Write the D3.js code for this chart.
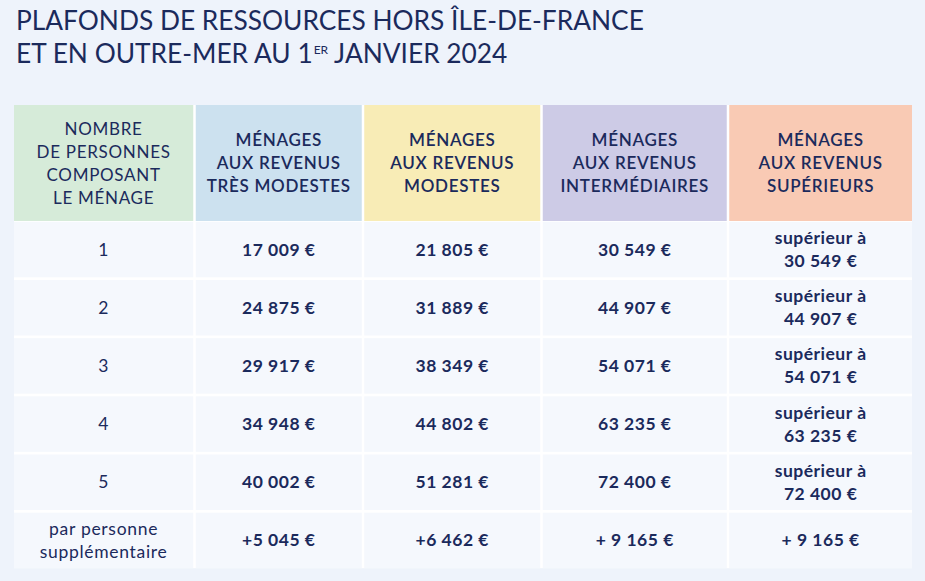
<!DOCTYPE html>
<html>
<head>
<meta charset="utf-8">
<script src="https://cdn.jsdelivr.net/npm/d3@7"></script>
<style>
  body { margin: 0; background: #eef3fb; }
  svg { display: block; }
</style>
</head>
<body>
<svg></svg>
<script>
// data
const titleLines = ['PLAFONDS DE RESSOURCES HORS ÎLE-DE-FRANCE', 'ET EN OUTRE-MER AU 1', 'ER', ' JANVIER 2024'];
const firstHeader = ['NOMBRE', 'DE PERSONNES', 'COMPOSANT', 'LE MÉNAGE'];
const categories = [
    ['MÉNAGES', 'AUX REVENUS', 'TRÈS MODESTES'],
    ['MÉNAGES', 'AUX REVENUS', 'MODESTES'],
    ['MÉNAGES', 'AUX REVENUS', 'INTERMÉDIAIRES'],
    ['MÉNAGES', 'AUX REVENUS', 'SUPÉRIEURS']
];
const householdSizes = ['1', '2', '3', '4', '5', 'par personne|supplémentaire'];
const tresModestes = [17009, 24875, 29917, 34948, 40002, 5045];
const modestes = [21805, 31889, 38349, 44802, 51281, 6462];
const intermediaires = [30549, 44907, 54071, 63235, 72400, 9165];
const superieurs = [30549, 44907, 54071, 63235, 72400, 9165];

const size = {w: 925, h: 581};
const navy = '#1b2a5c';
const headColors = ['#d6ebd9', '#cce1ef', '#f8ecb6', '#cdcbe6', '#f9cab4'];

// column edges of the table (layout)
const colEdges = [14, 194.5, 363, 541.5, 728, 912];
const gap = 2.5;

const svg = d3.select('svg')
    .attr('width', size.w)
    .attr('height', size.h);

svg.append('rect')
    .attr('width', size.w).attr('height', size.h)
    .attr('fill', '#eef3fb');

// title
const title = svg.append('g').attr('fill', navy)
    .style('font-family', 'Lato, sans-serif')
    .style('font-size', '26.3px');
title.append('text').attr('x', 16).attr('y', 30).text(titleLines[0]);
const t2 = title.append('text').attr('x', 16).attr('y', 63);
t2.append('tspan').text(titleLines[1]);
t2.append('tspan').attr('dy', -9).attr('dx', 1).style('font-size', '12px').text(titleLines[2]);
t2.append('tspan').attr('dy', 9).text(titleLines[3]);

const locale = d3.formatLocale({decimal: ',', thousands: '\u00a0', grouping: [3], currency: ['', '\u00a0€']});
const fmt = locale.format('$,d');

const rows = householdSizes.map((s, i) => {
    const last = i === householdSizes.length - 1;
    return [
        {lines: s.split('|'), bold: false},
        {lines: [(last ? '+' : '') + fmt(tresModestes[i])], bold: true},
        {lines: [(last ? '+' : '') + fmt(modestes[i])], bold: true},
        {lines: [(last ? '+ ' : '') + fmt(intermediaires[i])], bold: true},
        {lines: last ? ['+ ' + fmt(superieurs[i])] : ['supérieur à', fmt(superieurs[i])], bold: true}
    ];
});

const x = i => colEdges[i] + (i > 0 ? gap / 2 : 0);
const w = i => colEdges[i + 1] - (i < 4 ? gap / 2 : 0) - x(i);

const headY = {top: 105, bottom: 221};
const rowY = d3.scaleBand()
    .domain(d3.range(rows.length))
    .range([220.5, 569.5])
    .paddingInner(0.045)
    .paddingOuter(0.0225);

const table = svg.append('g').style('font-family', 'Lato, sans-serif');

// white lines behind the cells
table.append('rect')
    .attr('x', colEdges[0]).attr('y', headY.top)
    .attr('width', colEdges[5] - colEdges[0])
    .attr('height', rowY(rows.length - 1) + rowY.bandwidth() - headY.top)
    .attr('fill', '#ffffff');

// header cells
const heads = [firstHeader].concat(categories);
const headG = table.selectAll('g.head')
    .data(heads)
    .join('g')
    .classed('head', true);

headG.append('rect')
    .attr('x', (d, i) => x(i))
    .attr('y', headY.top)
    .attr('width', (d, i) => w(i))
    .attr('height', headY.bottom - headY.top)
    .attr('fill', (d, i) => headColors[i]);

const lh = 23;
headG.append('text')
    .attr('text-anchor', 'middle')
    .attr('fill', navy)
    .style('font-size', '17px')
    .style('letter-spacing', '0.7px')
    .style('font-weight', (d, i) => i === 0 ? 400 : 600)
    .selectAll('tspan')
    .data((d, i) => d.map((l, k) => ({l, k, n: d.length, i})))
    .join('tspan')
    .attr('x', d => x(d.i) + w(d.i) / 2)
    .attr('y', d => (headY.top + headY.bottom) / 2 + (d.k - (d.n - 1) / 2) * lh + 6)
    .text(d => d.l);

// body cells
const rowG = table.selectAll('g.row')
    .data(rows)
    .join('g')
    .classed('row', true)
    .attr('transform', (d, i) => `translate(0,${rowY(i)})`);

const cell = rowG.selectAll('g.cell')
    .data(d => d.map((c, i) => Object.assign({i}, c)))
    .join('g')
    .classed('cell', true);

cell.append('rect')
    .attr('x', d => x(d.i))
    .attr('width', d => w(d.i))
    .attr('height', rowY.bandwidth())
    .attr('fill', '#f5f8fd');

cell.append('text')
    .attr('text-anchor', 'middle')
    .attr('fill', navy)
    .style('font-size', '17.5px')
    .style('letter-spacing', d => d.bold ? '0.5px' : '0.7px')
    .style('font-weight', d => d.bold ? 700 : 400)
    .selectAll('tspan')
    .data(d => d.lines.map((l, k) => ({l, k, n: d.lines.length, i: d.i, bold: d.bold})))
    .join('tspan')
    .attr('x', d => x(d.i) + w(d.i) / 2)
    .attr('y', d => rowY.bandwidth() / 2 + (d.k - (d.n - 1) / 2) * 23 + 6)
    .text(d => d.l);
</script>
</body>
</html>
